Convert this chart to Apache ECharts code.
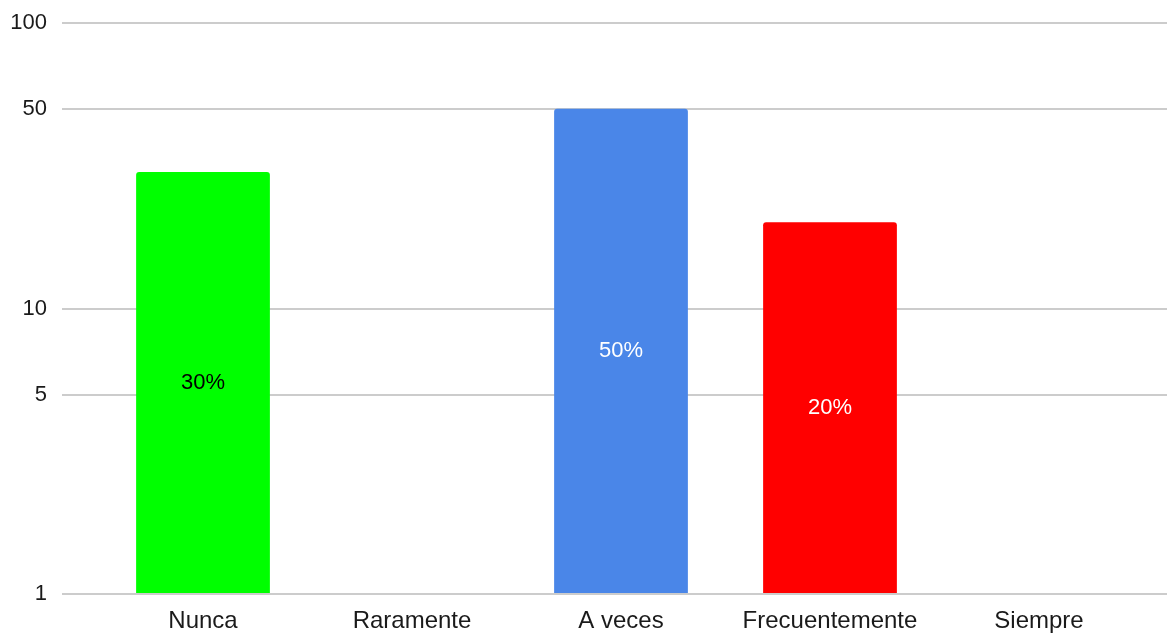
<!DOCTYPE html>
<html>
<head>
<meta charset="utf-8">
<script src="https://cdn.jsdelivr.net/npm/echarts@6/dist/echarts.min.js"></script>
<style>
  html, body { margin: 0; padding: 0; background: #fff; }
  #chart { width: 1167px; height: 633px; }
</style>
</head>
<body>
<div id="chart"></div>
<script>
// datos de la encuesta (porcentajes)
const categories = ["Nunca", "Raramente", "A veces", "Frecuentemente", "Siempre"];
const values = [30, null, 50, 20, null];
const barColors = ["#00ff00", "#cccccc", "#4a86e8", "#ff0000", "#cccccc"];
const labelColors = ["#000000", "#000000", "#ffffff", "#ffffff", "#000000"];
const yTicks = [1, 5, 10, 50, 100];

const font = "Liberation Sans, Arial, sans-serif";

const chart = echarts.init(document.getElementById("chart"));

const getChartOption = () => {
  return {
    animation: false,
    grid: [
      // rejilla ancha: líneas y etiquetas del eje Y
      { left: 62, right: 0, top: 23, bottom: 39 },
      // rejilla de las barras
      { left: 98.5, right: 23.5, top: 23, bottom: 39 },
    ],
    xAxis: [
      {
        type: "category",
        gridIndex: 0,
        data: categories,
        show: false,
      },
      {
        type: "category",
        gridIndex: 1,
        data: categories,
        axisLine: { show: false },
        axisTick: { show: false },
        axisLabel: {
          interval: 0,
          color: "#1a1a1a",
          fontSize: 24,
          fontFamily: font,
          margin: 16,
        },
      },
    ],
    yAxis: [
      {
        type: "log",
        gridIndex: 0,
        logBase: 10,
        min: 1,
        max: 100,
        axisLine: { show: false },
        axisTick: { show: false, customValues: yTicks },
        axisLabel: {
          customValues: yTicks,
          color: "#1a1a1a",
          fontSize: 22,
          fontFamily: font,
          margin: 15,
          padding: [6, 0, 0, 0],
        },
        splitLine: { lineStyle: { color: "#cccccc", width: 2 } },
      },
      {
        type: "log",
        gridIndex: 1,
        logBase: 10,
        min: 1,
        max: 100,
        show: false,
      },
    ],
    series: [
      {
        type: "bar",
        xAxisIndex: 1,
        yAxisIndex: 1,
        barCategoryGap: "36%",
        data: values.map((v, i) => ({
          value: v,
          itemStyle: { color: barColors[i], borderRadius: [3, 3, 0, 0] },
          label: { color: labelColors[i] },
        })),
        label: {
          show: true,
          position: "inside",
          fontSize: 22,
          fontFamily: font,
          formatter: (p) => p.value + "%",
        },
      },
    ],
  };
};

chart.setOption(getChartOption());
window.addEventListener("resize", () => {
  chart.resize();
});
</script>
</body>
</html>
